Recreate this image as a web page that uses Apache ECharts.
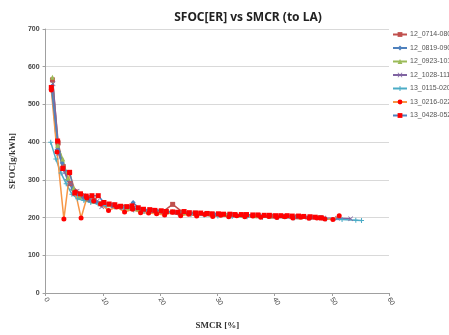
<!DOCTYPE html>
<html>
<head>
<meta charset="utf-8">
<script src="https://cdn.jsdelivr.net/npm/echarts@6/dist/echarts.min.js"></script>
<style>
  html, body { margin: 0; padding: 0; background: #fff; }
  #chart { width: 449px; height: 335px; }
</style>
</head>
<body>
<div id="chart"></div>
<script>
// series names (legend)
var names = ['12_0714-0802', '12_0819-0906', '12_0923-1011', '12_1028-1115', '13_0115-0201', '13_0216-0228', '13_0428-0521'];

// SMCR [%] / SFOC [g/kWh] per series
var x1 = [1.2, 2.2, 3.1, 4.3, 5.2, 6.3, 7.4, 8.5, 10.1, 11.8, 13.5, 15.2, 17.0, 18.8, 20.5, 22.2, 24.0, 26.1, 28.3, 30.5, 32.8, 35.0, 37.2, 39.5, 41.8, 44.0, 46.2, 48.0];
var y1 = [565, 398, 335, 290, 268, 258, 250, 246, 238, 233, 228, 224, 221, 219, 216, 235, 214, 212, 210, 208, 207, 206, 205, 204, 203, 202, 201, 200];

var x2 = [1.1, 2.0, 2.9, 3.8, 4.7, 5.6, 6.6, 7.7, 8.9, 10.2, 11.6, 13.0, 14.4, 15.3, 16.5, 18.0, 19.6, 21.3, 23.0, 25.0, 27.2, 29.5, 31.8, 34.2, 36.6, 39.0, 41.5, 44.0, 46.5];
var y2 = [548, 380, 345, 300, 275, 262, 252, 245, 241, 236, 232, 229, 226, 240, 222, 219, 217, 215, 213, 211, 210, 209, 207, 206, 205, 204, 203, 202, 201];

var x3 = [1.2, 2.1, 3.0, 3.9, 4.9, 5.9, 7.0, 8.2, 9.5, 11.0, 12.6, 14.3, 16.1, 18.0, 20.0, 22.1, 24.3, 26.6, 29.0, 31.5, 34.0, 36.6, 39.2, 41.8, 44.5];
var y3 = [572, 392, 355, 305, 278, 255, 250, 244, 238, 234, 230, 226, 223, 220, 218, 216, 214, 212, 210, 208, 207, 205, 204, 203, 202];

var x4 = [1.3, 2.3, 3.3, 4.4, 5.5, 6.6, 7.8, 9.0, 9.8, 11.9, 13.5, 15.2, 17.0, 18.9, 20.9, 23.0, 25.2, 27.5, 29.9, 32.4, 35.0, 37.6, 40.3, 43.0, 45.8, 48.6, 51.0, 53.3];
var y4 = [555, 370, 320, 290, 270, 258, 248, 243, 229, 231, 227, 224, 221, 218, 216, 214, 212, 210, 208, 207, 205, 204, 203, 202, 201, 199, 198, 197];

var x5 = [0.9, 1.8, 2.7, 3.6, 4.6, 5.6, 6.7, 7.9, 9.2, 10.6, 12.1, 13.7, 15.4, 17.2, 19.1, 21.1, 23.2, 25.4, 27.7, 30.1, 32.6, 35.2, 37.9, 40.6, 43.4, 46.2, 49.0, 51.8, 54.2, 55.2];
var y5 = [400, 355, 318, 290, 262, 250, 245, 240, 236, 232, 228, 224, 220, 216, 214, 212, 210, 208, 206, 204, 203, 202, 201, 200, 199, 198, 196, 195, 193, 192];

var x6 = [1.0, 2.0, 3.2, 4.2, 5.2, 6.2, 7.2, 8.4, 9.6, 11.0, 12.4, 13.8, 15.2, 16.6, 18.0, 19.4, 20.8, 22.2, 23.6, 25.0, 26.4, 27.8, 29.2, 30.6, 32.0, 33.4, 34.8, 36.2, 37.6, 39.0, 40.4, 41.8, 43.2, 44.6, 46.0, 47.4, 48.8, 50.2, 51.3];
var y6 = [538, 374, 196, 318, 268, 199, 252, 244, 236, 219, 228, 215, 222, 213, 212, 210, 207, 214, 205, 209, 204, 208, 203, 206, 202, 205, 202, 204, 201, 203, 200, 202, 199, 201, 198, 199, 196, 195, 205];

var x7 = [1.0, 2.1, 3.0, 4.2, 5.1, 6.1, 7.1, 8.1, 9.2, 10.2, 11.1, 12.1, 13.1, 14.2, 15.1, 16.2, 17.1, 18.2, 19.1, 20.2, 21.1, 22.2, 23.1, 24.2, 25.1, 26.2, 27.1, 28.2, 29.1, 30.2, 31.1, 32.2, 33.1, 34.2, 35.1, 36.2, 37.1, 38.2, 39.1, 40.2, 41.1, 42.2, 43.1, 44.2, 45.1, 46.2, 47.1, 48.2];
var y7 = [545, 403, 330, 320, 265, 263, 257, 258, 258, 240, 236, 234, 230, 229, 231, 226, 222, 221, 219, 218, 216, 215, 214, 216, 213, 212, 212, 211, 210, 210, 209, 209, 208, 208, 208, 207, 207, 206, 206, 205, 205, 205, 204, 204, 203, 202, 201, 199];

var xs = [x1, x2, x3, x4, x5, x6, x7];
var ys = [y1, y2, y3, y4, y5, y6, y7];

var lineColors = ['#C0504D', '#4F81BD', '#9BBB59', '#8064A2', '#4BACC6', '#F79646', '#4F81BD'];
var markColors = ['#C0504D', '#4F81BD', '#9BBB59', '#8064A2', '#4BACC6', '#FF0000', '#FF0000'];
var crossPath = 'path://M1,0L5,4L9,0L10,1L6,5L10,9L9,10L5,6L1,10L0,9L4,5L0,1Z';
var starPath = 'path://M4,0L6,0L6,4L10,4L10,6L6,6L6,10L4,10L4,6L0,6L0,4L4,4Z';
var symbols = ['rect', 'diamond', 'triangle', crossPath, starPath, 'circle', 'rect'];

function pairs(xa, ya) {
  var out = [];
  for (var i = 0; i < xa.length; i++) out.push([xa[i], ya[i]]);
  return out;
}

var series = names.map(function (n, i) {
  return {
    name: n,
    type: 'line',
    data: pairs(xs[i], ys[i]),
    symbol: symbols[i],
    symbolSize: 5,
    showAllSymbol: true,
    lineStyle: { color: lineColors[i], width: 1.5 },
    itemStyle: { color: markColors[i] },
    emphasis: { disabled: true },
    animation: false
  };
});

var chart = echarts.init(document.getElementById('chart'));
chart.setOption({
  animation: false,
  title: {
    text: 'SFOC[ER] vs SMCR (to LA)',
    left: 243,
    textAlign: 'center',
    top: 7,
    textStyle: { fontFamily: 'Noto Sans', fontSize: 12, fontWeight: 'bold', color: '#222' }
  },
  legend: {
    orient: 'vertical',
    left: 392,
    top: 31,
    width: 120,
    padding: 0,
    itemWidth: 14,
    itemHeight: 6,
    itemGap: 6.5,
    textStyle: { fontSize: 7, color: '#555', overflow: 'none', padding: [0, 0, 0, -2] },
    data: names
  },
  grid: { left: 44, right: 60, top: 29, bottom: 37 },
  xAxis: {
    type: 'value',
    min: 0, max: 60, interval: 10,
    name: 'SMCR [%]',
    nameLocation: 'middle',
    nameGap: 28,
    nameTextStyle: { fontFamily: 'Liberation Serif', fontWeight: 'bold', fontSize: 9, color: '#333' },
    axisLine: { show: true, lineStyle: { color: '#A0A0A0' } },
    axisTick: { show: true, length: 3, lineStyle: { color: '#A0A0A0' } },
    axisLabel: { rotate: -60, fontSize: 7, color: '#444', margin: 5 },
    splitLine: { show: false }
  },
  yAxis: {
    type: 'value',
    min: 0, max: 700, interval: 100,
    name: 'SFOC[g/kWh]',
    nameLocation: 'middle',
    nameGap: 24,
    nameTextStyle: { fontFamily: 'Liberation Serif', fontWeight: 'bold', fontSize: 9, color: '#333' },
    axisLine: { show: true, lineStyle: { color: '#A0A0A0' } },
    axisTick: { show: true, length: 3, lineStyle: { color: '#A0A0A0' } },
    axisLabel: { fontSize: 7, color: '#444', margin: 6, fontWeight: 'bold' },
    splitLine: { lineStyle: { color: '#D9D9D9' } }
  },
  series: series
});
</script>
</body>
</html>
